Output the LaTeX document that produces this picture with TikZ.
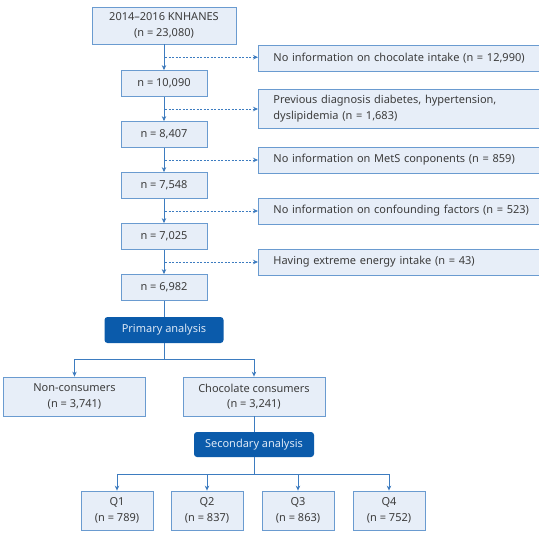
\documentclass[tikz,border=0pt]{standalone}
\usepackage{fontspec}
\setmainfont{Noto Sans}
\usetikzlibrary{arrows.meta,positioning,calc}
\definecolor{boxfill}{HTML}{E7EEF8}
\definecolor{boxline}{HTML}{6A9BD0}
\definecolor{linkblue}{HTML}{3D7CC0}
\definecolor{darkbox}{HTML}{0B5BAB}
\definecolor{stagetext}{HTML}{DCE8F6}
\definecolor{textgray}{HTML}{3C3C3C}
\tikzset{
  box/.style={draw=boxline,fill=boxfill,line width=0.8pt,text=textgray,align=center,
    font=\fontsize{11}{15.5}\selectfont,inner sep=0pt},
  count/.style={box,minimum width=86pt,minimum height=26pt},
  excl/.style={box,anchor=west,text width=262pt,inner xsep=15pt,inner ysep=0pt,
    minimum height=26pt,align=left},
  group/.style={box,minimum width=142pt,minimum height=39pt},
  quart/.style={box,minimum width=72pt,minimum height=39pt},
  stage/.style={fill=darkbox,rounded corners=3pt,text=stagetext,minimum height=26pt,
    font=\fontsize{11}{15.5}\selectfont,inner sep=0pt},
  link/.style={draw=linkblue,line width=0.8pt},
  skip/.style={link,dashed,dash pattern=on 2pt off 1.5pt}
}
\begin{document}
\begin{tikzpicture}[x=1pt,y=-1pt,->,>={Stealth[length=5pt,width=4.5pt]},node distance=51pt]
  \useasboundingbox[fill=white] (0,0) rectangle (539,535);

  \node[box,minimum width=144pt,minimum height=37pt] (all) at (164,25.5) {2014--2016 KNHANES\\(n = 23,080)};
  \node[count] (n1) at (164,83.5)  {n = 10,090};
  \node[count] (n2) [below of=n1]  {n = 8,407};
  \node[count] (n3) [below of=n2]  {n = 7,548};
  \node[count] (n4) [below of=n3]  {n = 7,025};
  \node[count] (n5) [below of=n4]  {n = 6,982};

  \node[excl] (x1) at (258,58.5)  {No information on chocolate intake (n = 12,990)};
  \node[excl,minimum height=39pt] (x2) at (258,108.5) {Previous diagnosis diabetes, hypertension,\\dyslipidemia (n = 1,683)};
  \node[excl] (x3) at (258,160)   {No information on MetS conponents (n = 859)};
  \node[excl] (x4) at (258,211)   {No information on confounding factors (n = 523)};
  \node[excl] (x5) at (258,262)   {Having extreme energy intake (n = 43)};

  \node[stage,minimum width=119pt] (prim) at (164,330) {Primary analysis};
  \node[group] (non) at (74.5,396.5) {Non-consumers\\(n = 3,741)};
  \node[group] (cons) at (254,396.5) {Chocolate consumers\\(n = 3,241)};
  \node[stage,minimum width=120pt,minimum height=25pt] (sec) at (254,444.5) {Secondary analysis};

  \node[quart] (q1) at (117,510.5) {Q1\\(n = 789)};
  \node[quart] (q2) at (207,510.5) {Q2\\(n = 837)};
  \node[quart] (q3) at (298,510.5) {Q3\\(n = 863)};
  \node[quart] (q4) at (389,510.5) {Q4\\(n = 752)};

  \path[link] (all) edge (n1)
              (n1) edge (n2)
              (n2) edge (n3)
              (n3) edge (n4)
              (n4) edge (n5);
  \draw[link,-] (n5) -- (prim);
  \draw[link,-] (cons) -- (sec);

  \coordinate (d1) at ($(all.south)!0.5!(n1.north)$);
  \coordinate (d2) at ($(n1.south)!0.5!(n2.north)$);
  \coordinate (d3) at ($(n2.south)!0.5!(n3.north)$);
  \coordinate (d4) at ($(n3.south)!0.5!(n4.north)$);
  \coordinate (d5) at ($(n4.south)!0.5!(n5.north)$);
  \foreach \i in {1,...,5}
    \draw[skip] ([xshift=1pt]d\i) -- (d\i -| x\i.west);

  \coordinate (b1) at (164,359);
  \draw[link,-] (prim) -- (b1);
  \draw[link] (b1) -| (non);
  \draw[link] (b1) -| (cons);

  \coordinate (b2) at (254,474);
  \draw[link,-] (sec) -- (b2);
  \foreach \q in {q1,q2,q3,q4}
    \draw[link] (b2) -| (\q);
\end{tikzpicture}
\end{document}
